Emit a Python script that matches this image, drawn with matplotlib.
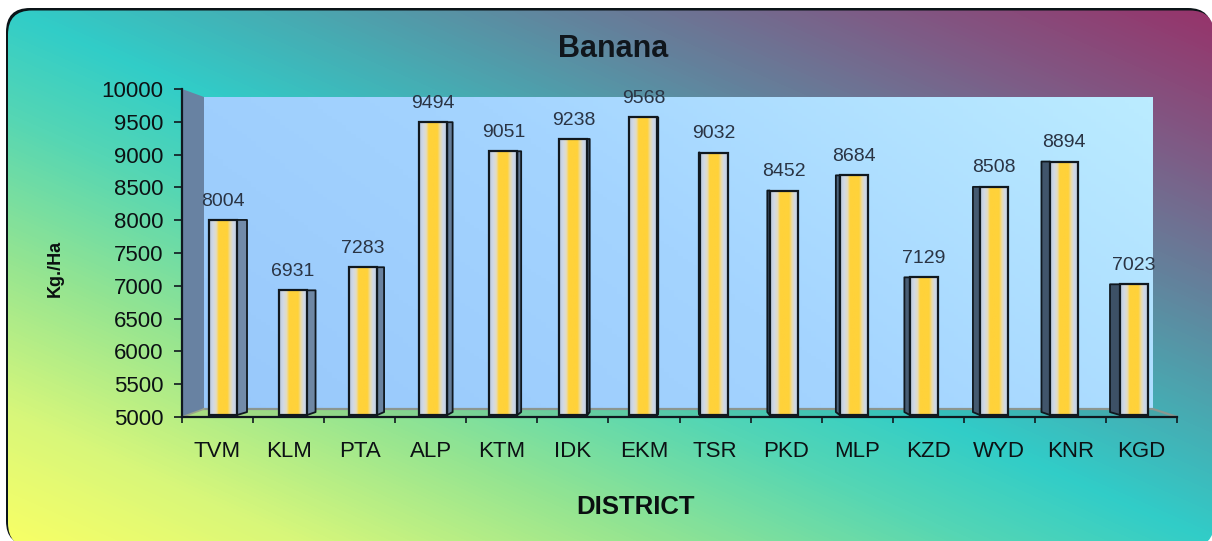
import numpy as np
import matplotlib
matplotlib.use("Agg")
import matplotlib.pyplot as plt
from matplotlib.colors import LinearSegmentedColormap, to_rgb
from matplotlib.patches import FancyBboxPatch, Polygon

districts = ["TVM", "KLM", "PTA", "ALP", "KTM", "IDK", "EKM", "TSR", "PKD", "MLP", "KZD", "WYD", "KNR", "KGD"]
yields = [8004, 6931, 7283, 9494, 9051, 9238, 9568, 9032, 8452, 8684, 7129, 8508, 8894, 7023]
y_ticks = list(range(5000, 10001, 500))
title = "Banana"
x_title = "DISTRICT"
y_title = "Kg./Ha"

FONT = "Liberation Sans"
W, H = 1212, 541
fig = plt.figure(figsize=(W / 100, H / 100), dpi=100, facecolor="white")

# ---- backdrop, in pixel coordinates
bg = fig.add_axes([0, 0, 1, 1])
bg.set_axis_off()
yy, xx = np.mgrid[0:H, 0:W]
t = ((xx - 6) / (W - 6) + 1 - (yy - 8) / (H - 8)) / 2
bg_cmap = LinearSegmentedColormap.from_list(
    "bg",
    [(0.0, "#f8ff66"), (0.12, "#d8f77a"), (0.27, "#92e492"), (0.4, "#55d6b4"), (0.5, "#31cdc8"),
     (0.6, "#45aeb4"), (0.73, "#63829c"), (0.86, "#7f5a85"), (1.0, "#97336a")],
)
bg.add_patch(FancyBboxPatch((6, 8), 1206, 537, boxstyle="round,pad=0,rounding_size=24",
                            fc="#0b1418", ec="none"))
clip = FancyBboxPatch((8, 10.5), 1206, 536.5, boxstyle="round,pad=0,rounding_size=24",
                      fc="none", ec="none")
bg.add_patch(clip)
im = bg.imshow(t, cmap=bg_cmap, vmin=0, vmax=1, extent=(0, W, H, 0), aspect="auto", zorder=2)
im.set_clip_path(clip)

# back wall
wt = np.linspace(0, 1, 200)[None, :] * 0.7 + np.linspace(1, 0, 100)[:, None] * 0.3
wall_cmap = LinearSegmentedColormap.from_list("wall", ["#98c8fb", "#a4d4ff", "#bbecff"])
bg.imshow(wt, cmap=wall_cmap, extent=(204, 1153, 409, 97), aspect="auto", zorder=3)
# side wall
side = Polygon([(182, 89), (204, 97), (204, 409), (182, 417)], closed=True, fc="#6882a2", ec="none", zorder=3)
bg.add_patch(side)
# floor
bg.add_patch(Polygon([(182, 417), (204, 409), (1153, 409), (1177, 417)], closed=True,
                     fc="#4f5a50", alpha=0.10, ec="none", zorder=3))
bg.plot([204, 1153, 1177], [409, 409, 417], color="#8b9690", lw=1.6, zorder=3.5)
bg.plot([182, 204], [417, 409], color="#9aa58a", lw=1.2, zorder=3.5)
bg.set_xlim(0, W)
bg.set_ylim(H, 0)

# ---- chart
ax = fig.add_axes([182 / W, (H - 417) / H, 995 / W, 328 / H])
ax.patch.set_visible(False)
unit = 995 / 14
base = 5030
bar_w = 28 / unit
pos = np.array([(223 + 70.08 * i - 182) / unit for i in range(len(yields))])
bar_cmap = LinearSegmentedColormap.from_list(
    "bar",
    [(0, "#bcc9da"), (0.14, "#d0d9e8"), (0.26, "#e4dcc0"), (0.35, "#ffd23a"), (0.66, "#ffd23a"),
     (0.76, "#eadba8"), (0.87, "#d0d9e8"), (1, "#c2cfe0")],
)
grad = np.linspace(0, 1, 64)[None, :]
c_l, c_r = np.array(to_rgb("#728ba9")), np.array(to_rgb("#3d5166"))
for i, (x, v) in enumerate(zip(pos, yields)):
    ax.imshow(grad, cmap=bar_cmap, extent=(x - bar_w / 2, x + bar_w / 2, base, v), aspect="auto", zorder=3)
    off = (678 - (x * unit + 182)) * 0.022 / unit
    edge = x + bar_w / 2 if off > 0 else x - bar_w / 2
    col = c_l + (c_r - c_l) * i / (len(yields) - 1)
    ax.fill([edge, edge + off, edge + off, edge], [v, v, base + 45, base],
            fc=col, ec="#10181f", lw=1.3, zorder=2.5, joinstyle="round")
ax.bar(pos, np.array(yields) - base, bottom=base, width=bar_w, facecolor="none",
       edgecolor="#10181f", lw=1.6, zorder=4)
for x, v in zip(pos, yields):
    ax.annotate(str(v), (x, v), xytext=(0, 7.5), textcoords="offset points", ha="center", va="bottom",
                family=FONT, fontsize=14, color="#2a3444", zorder=5, annotation_clip=False)

ax.set_xlim(0, 14)
ax.set_ylim(5000, 10000)
ax.set_yticks(y_ticks)
ax.set_yticklabels([str(v) for v in y_ticks], family=FONT, fontsize=16, color="#0c1114")
ax.set_xticks(np.arange(15))
ax.set_xticklabels([])
ax.set_xticks(np.arange(14) + 0.5, minor=True)
ax.set_xticklabels(districts, minor=True, family=FONT, fontsize=16, color="#0c1114")
ax.tick_params(axis="x", which="major", length=4.5, width=1.2, color="#10181f")
ax.tick_params(axis="x", which="minor", length=0, pad=17.5)
ax.tick_params(axis="y", length=5.5, width=1.2, color="#10181f", pad=8)
for s in ("top", "right"):
    ax.spines[s].set_visible(False)
for s in ("left", "bottom"):
    ax.spines[s].set_linewidth(1.6)
    ax.spines[s].set_color("#10181f")

fig.text(613 / W, 1 - 49 / H, title, family=FONT, fontweight="bold", fontsize=22,
         color="#10161c", ha="center", va="center")
fig.text(636 / W, 1 - 507 / H, x_title, family=FONT, fontweight="bold", fontsize=18.5,
         color="#0a0f10", ha="center", va="center")
fig.text(55 / W, 1 - 268 / H, y_title, family=FONT, fontweight="bold", fontsize=13,
         color="#0a0f10", ha="center", va="center", rotation=90)

fig.savefig("out.png", dpi=100, facecolor="white")
